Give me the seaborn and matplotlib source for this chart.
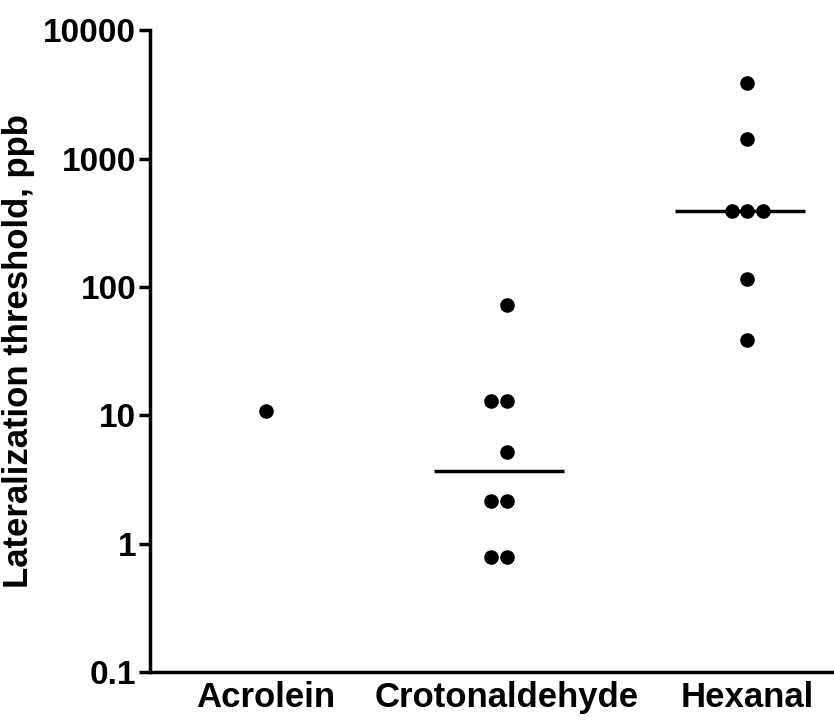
import numpy as np
import pandas as pd
import matplotlib
matplotlib.use("Agg")
import matplotlib.pyplot as plt
import seaborn as sns

categories = ["Acrolein", "Crotonaldehyde", "Hexanal"]
acrolein = [10.8]
crotonaldehyde = [73, 13, 13, 5.2, 2.15, 2.15, 0.79, 0.79]
hexanal = [3900, 1420, 390, 390, 390, 115, 38.5]

rows = []
for name, vals in zip(categories, [acrolein, crotonaldehyde, hexanal]):
    for v in vals:
        rows.append({"compound": name, "threshold": v})
df = pd.DataFrame(rows)

sns.set_style("ticks")
plt.rcParams['font.family'] = ['Liberation Sans', 'DejaVu Sans']
plt.rcParams['font.weight'] = 'bold'
plt.rcParams['text.color'] = 'black'
plt.rcParams['axes.labelcolor'] = 'black'
plt.rcParams['xtick.color'] = 'black'
plt.rcParams['ytick.color'] = 'black'
plt.rcParams['axes.edgecolor'] = 'black'

fig = plt.figure(figsize=(8.34, 7.22), dpi=100)
ax = fig.add_axes([0.18, 0.069, 0.82, 0.889])

sns.swarmplot(data=df, x="compound", y="threshold", order=categories,
              color="black", size=10.5, log_scale=True, ax=ax)

# median lines for groups with more than one value
for i, vals in enumerate([acrolein, crotonaldehyde, hexanal]):
    if len(vals) > 1:
        m = np.median(vals)
        ax.hlines(m, i - 0.3, i + 0.24, color="black", lw=2.5)

ax.set_yscale("log")
ax.set_ylim(0.1, 10000)
ax.set_xlim(-0.48, 2.36)
ax.set_yticks([0.1, 1, 10, 100, 1000, 10000])
ax.set_yticklabels(["0.1", "1", "10", "100", "1000", "10000"])
ax.yaxis.set_minor_locator(matplotlib.ticker.NullLocator())
ax.tick_params(axis="y", labelsize=24, width=2.5, length=8, pad=2)
ax.tick_params(axis="x", labelsize=25, length=0, pad=6)
for lab in ax.get_xticklabels() + ax.get_yticklabels():
    lab.set_fontweight("bold")
ax.set_xlabel("")
ax.set_ylabel("Lateralization threshold, ppb", fontsize=25, fontweight="bold", labelpad=6)
sns.despine(ax=ax)
ax.spines["left"].set_linewidth(2.5)
ax.spines["bottom"].set_linewidth(2.5)

fig.savefig("out.png", dpi=100)
